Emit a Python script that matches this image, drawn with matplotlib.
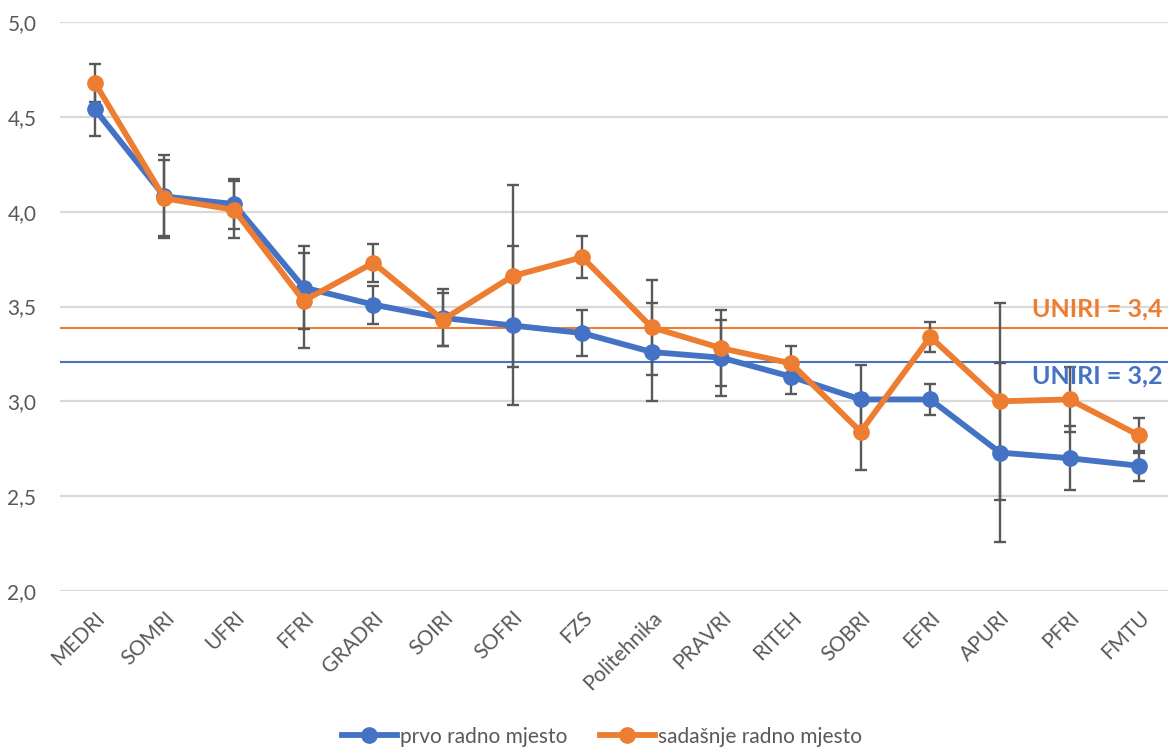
import matplotlib.pyplot as plt

plt.rcParams['font.family'] = ['Lato', 'DejaVu Sans']

categories = ["MEDRI", "SOMRI", "UFRI", "FFRI", "GRADRI", "SOIRI", "SOFRI", "FZS",
              "Politehnika", "PRAVRI", "RITEH", "SOBRI", "EFRI", "APURI", "PFRI", "FMTU"]
prvo = [4.54, 4.08, 4.04, 3.60, 3.51, 3.44, 3.40, 3.36, 3.26, 3.23, 3.13, 3.01, 3.01, 2.73, 2.70, 2.66]
prvo_err = [0.14, 0.22, 0.13, 0.22, 0.10, 0.15, 0.42, 0.12, 0.26, 0.20, 0.09, 0.18, 0.08, 0.47, 0.17, 0.08]
sadasnje = [4.68, 4.07, 4.01, 3.53, 3.73, 3.43, 3.66, 3.76, 3.39, 3.28, 3.20, 2.84, 3.34, 3.00, 3.01, 2.82]
sadasnje_err = [0.10, 0.20, 0.15, 0.25, 0.10, 0.14, 0.48, 0.11, 0.25, 0.20, 0.09, 0.20, 0.08, 0.52, 0.17, 0.09]
uniri_prvo = 3.21
uniri_sadasnje = 3.385

blue = '#4472C4'
orange = '#ED7D31'
grey = '#595959'

fig = plt.figure(figsize=(11.68, 7.52), dpi=100)
# the original chart is cropped on the right, so the axes run past the figure edge
ax = fig.add_axes([60 / 1168, 161 / 752, 1114 / 1168, 569 / 752])

x = list(range(len(categories)))

# error bars under the lines
ax.errorbar(x, prvo, yerr=prvo_err, fmt='none', ecolor=grey, elinewidth=1.7,
            capsize=4.5, capthick=1.7, zorder=2)
ax.errorbar(x, sadasnje, yerr=sadasnje_err, fmt='none', ecolor=grey, elinewidth=1.7,
            capsize=4.5, capthick=1.7, zorder=2)

ax.plot(x, prvo, color=blue, lw=4.2, marker='o', ms=11, label='prvo radno mjesto', zorder=3)
ax.plot(x, sadasnje, color=orange, lw=4.2, marker='o', ms=11, label='sadašnje radno mjesto', zorder=4)

ax.axhline(uniri_sadasnje, color=orange, lw=1.5, zorder=1.5)
ax.axhline(uniri_prvo, color=blue, lw=1.5, zorder=1.5)

fig.text(1163 / 1168, 1 - 309 / 752, 'UNIRI = 3,4', color=orange, fontsize=18,
         fontweight='bold', ha='right', va='center')
fig.text(1163 / 1168, 1 - 376 / 752, 'UNIRI = 3,2', color=blue, fontsize=18,
         fontweight='bold', ha='right', va='center')

ax.set_xlim(-0.5, 15.5)
ax.set_ylim(2.0, 5.0)
ax.set_yticks([2.0, 2.5, 3.0, 3.5, 4.0, 4.5, 5.0])
ax.set_yticklabels(['2,0', '2,5', '3,0', '3,5', '4,0', '4,5', '5,0'])
ax.set_xticks(x)
ax.set_xticklabels(categories, rotation=45, ha='right', rotation_mode='anchor')
ax.tick_params(axis='both', length=0, colors=grey, labelsize=15)
ax.tick_params(axis='y', pad=17)
ax.tick_params(axis='x', pad=12)
ax.grid(axis='y', color='#D9D9D9', lw=1.6)
ax.set_axisbelow(True)
for s in ax.spines.values():
    s.set_visible(False)

leg = fig.legend(loc='lower center', bbox_to_anchor=(602 / 1168, -0.018), ncol=2, frameon=False,
                 fontsize=15, handlelength=2.6, handletextpad=0.15, columnspacing=1.6)
for t in leg.get_texts():
    t.set_color(grey)

fig.savefig('out.png', dpi=100)
